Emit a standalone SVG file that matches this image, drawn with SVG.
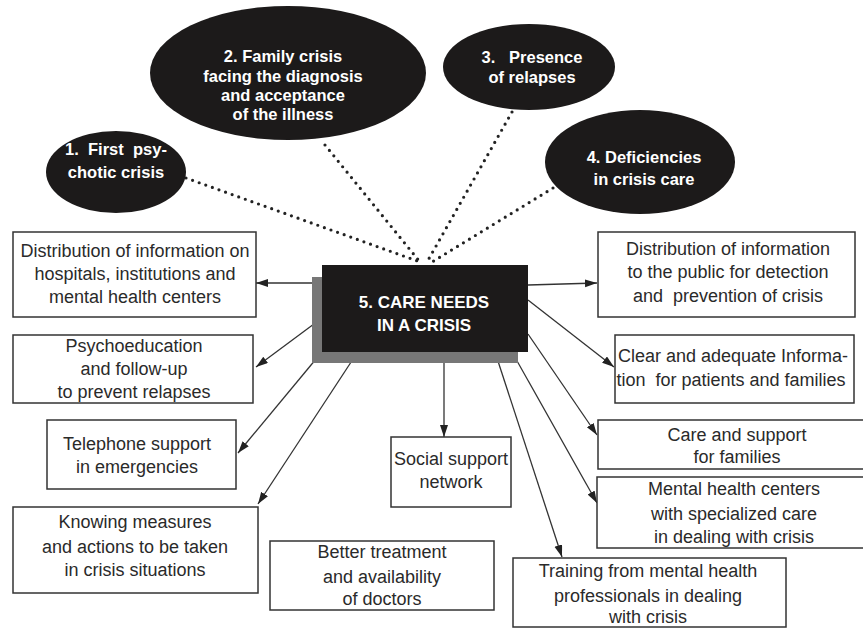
<svg xmlns="http://www.w3.org/2000/svg" width="863" height="629" viewBox="0 0 863 629">
<style>
.ell{fill:#1c1a1a}
.et{font-family:"Liberation Sans",Arial,sans-serif;font-weight:bold;font-size:16.5px;fill:#fff;text-anchor:middle;white-space:pre}
.box{fill:#fff;stroke:#333;stroke-width:1.5}
.bt{font-family:"Liberation Sans",Arial,sans-serif;font-size:18px;fill:#2a2a2a;text-anchor:middle;white-space:pre}
.ct{font-family:"Liberation Sans",Arial,sans-serif;font-weight:bold;font-size:17px;fill:#fff;text-anchor:middle}
.dot{fill:none;stroke:#222;stroke-width:3.2;stroke-linecap:round;stroke-dasharray:0 7}
.arr{fill:none;stroke:#333;stroke-width:1.3;marker-end:url(#ah)}
</style>
<defs>
<marker id="ah" markerUnits="userSpaceOnUse" markerWidth="13" markerHeight="9" refX="12" refY="4" orient="auto">
<path d="M0,0 L12,4 L0,8 z" fill="#222"/>
</marker>
</defs>
<rect width="863" height="629" fill="#fff"/>

<g id="connectors">
<line class="dot" x1="186" y1="178" x2="423" y2="263"/>
<line class="dot" x1="325" y1="145" x2="420" y2="262"/>
<line class="dot" x1="512" y1="112" x2="427" y2="262"/>
<line class="dot" x1="553" y1="188" x2="432" y2="262"/>
<line class="arr" x1="322" y1="283" x2="256" y2="283"/>
<line class="arr" x1="322" y1="318" x2="256" y2="367"/>
<line class="arr" x1="321" y1="353" x2="238" y2="453"/>
<line class="arr" x1="357" y1="353" x2="258" y2="504"/>
<line class="arr" x1="444" y1="352" x2="444" y2="437"/>
<line class="arr" x1="495" y1="352" x2="562" y2="557"/>
<line class="arr" x1="512" y1="352" x2="597" y2="503"/>
<line class="arr" x1="528" y1="334" x2="597" y2="435"/>
<line class="arr" x1="528" y1="300" x2="614" y2="367"/>
<line class="arr" x1="528" y1="285" x2="597" y2="283"/>
</g>

<g id="n1">
<ellipse class="ell" cx="116" cy="172" rx="70" ry="41"/>
<text class="et" x="116" y="155">1.  First  psy-</text>
<text class="et" x="116" y="178">chotic crisis</text>
</g>
<g id="n2">
<ellipse class="ell" cx="288" cy="73" rx="138" ry="67"/>
<text class="et" x="283" y="62">2. Family crisis</text>
<text class="et" x="283" y="82">facing the diagnosis</text>
<text class="et" x="283" y="101">and acceptance</text>
<text class="et" x="283" y="120">of the illness</text>
</g>
<g id="n3">
<ellipse class="ell" cx="529" cy="67" rx="86" ry="43"/>
<text class="et" x="532" y="63">3.   Presence</text>
<text class="et" x="532" y="83">of relapses</text>
</g>
<g id="n4">
<ellipse class="ell" cx="640" cy="162" rx="95" ry="52"/>
<text class="et" x="644" y="163">4. Deficiencies</text>
<text class="et" x="644" y="185">in crisis care</text>
</g>

<g id="n5">
<rect x="312" y="277" width="206" height="86" fill="#777"/>
<rect x="322" y="265" width="206" height="87" fill="#1c1a1a"/>
<text class="ct" x="424" y="308">5. CARE NEEDS</text>
<text class="ct" x="424" y="331">IN A CRISIS</text>
</g>

<g id="b1">
<rect class="box" x="13" y="232" width="243" height="85"/>
<text class="bt" x="135" y="257">Distribution of information on</text>
<text class="bt" x="135" y="280">hospitals, institutions and</text>
<text class="bt" x="135" y="303">mental health centers</text>
</g>
<g id="b2">
<rect class="box" x="13" y="335" width="240" height="68"/>
<text class="bt" x="134" y="352">Psychoeducation</text>
<text class="bt" x="134" y="375">and follow-up</text>
<text class="bt" x="134" y="398">to prevent relapses</text>
</g>
<g id="b3">
<rect class="box" x="47" y="420" width="189" height="69"/>
<text class="bt" x="137" y="450">Telephone support</text>
<text class="bt" x="137" y="473">in emergencies</text>
</g>
<g id="b4">
<rect class="box" x="13" y="507" width="245" height="86"/>
<text class="bt" x="135" y="528">Knowing measures</text>
<text class="bt" x="135" y="553">and actions to be taken</text>
<text class="bt" x="135" y="576">in crisis situations</text>
</g>
<g id="b5">
<rect class="box" x="270" y="541" width="224" height="69"/>
<text class="bt" x="382" y="558">Better treatment</text>
<text class="bt" x="382" y="583">and availability</text>
<text class="bt" x="382" y="605">of doctors</text>
</g>
<g id="b6">
<rect class="box" x="391" y="437" width="120" height="70"/>
<text class="bt" x="451" y="465">Social support</text>
<text class="bt" x="451" y="488">network</text>
</g>
<g id="b7">
<rect class="box" x="598" y="232" width="257" height="85"/>
<text class="bt" x="728" y="255">Distribution of information</text>
<text class="bt" x="728" y="278">to the public for detection</text>
<text class="bt" x="728" y="302">and  prevention of crisis</text>
</g>
<g id="b8">
<rect class="box" x="615" y="335" width="239" height="68"/>
<text class="bt" x="733" y="362">Clear and adequate Informa-</text>
<text class="bt" x="731" y="386">tion  for patients and families</text>
</g>
<g id="b9">
<rect class="box" x="598" y="420" width="270" height="49"/>
<text class="bt" x="737" y="441">Care and support</text>
<text class="bt" x="737" y="463">for families</text>
</g>
<g id="b10">
<rect class="box" x="597" y="477" width="271" height="71"/>
<text class="bt" x="734" y="495">Mental health centers</text>
<text class="bt" x="734" y="520">with specialized care</text>
<text class="bt" x="734" y="543">in dealing with crisis</text>
</g>
<g id="b11">
<rect class="box" x="513" y="558" width="273" height="69"/>
<text class="bt" x="648" y="577">Training from mental health</text>
<text class="bt" x="648" y="602">professionals in dealing</text>
<text class="bt" x="648" y="623">with crisis</text>
</g>
</svg>
